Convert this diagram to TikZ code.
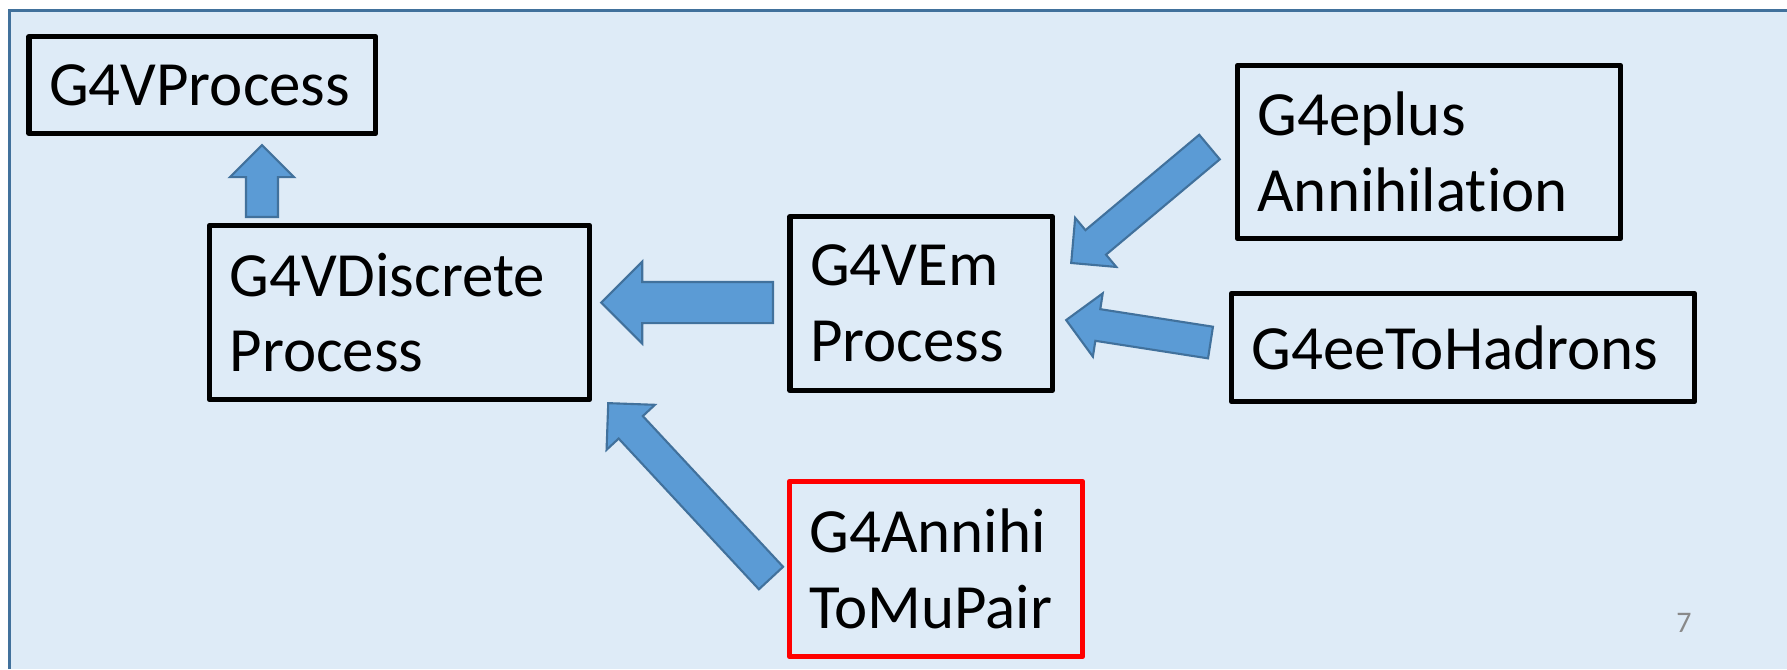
\documentclass[tikz,border=0pt]{standalone}
\usepackage{fontspec}
\setmainfont[Ligatures=NoCommon]{Carlito}
\usepackage{tikz}
\usetikzlibrary{calc}
\usetikzlibrary{positioning}

\definecolor{slidebg}{HTML}{DEEBF7}
\definecolor{slideedge}{HTML}{41719C}
\definecolor{arrowfill}{HTML}{5B9BD5}
\definecolor{arrowedge}{HTML}{41719C}
\definecolor{pagegray}{HTML}{898989}

% fat block arrow from #2 to #3, shaft width #1, head twice as wide
\newcommand{\blockarrow}[3][0.32cm]{%
  \draw[fatarrow] let \p1 = ($(#3)-(#2)$), \n1 = {veclen(\x1,\y1)}, \n2 = {atan2(\y1,\x1)} in
    [shift={(#2)}, rotate=\n2]
    (0pt,-#1/2) -- ({\n1-#1},-#1/2) -- ({\n1-#1},-#1) -- ({\n1+0pt},0pt)
    -- ({\n1-#1},#1) -- ({\n1-#1},#1/2) -- (0pt,#1/2) -- cycle;}

\begin{document}
\begin{tikzpicture}[
  x=0.01cm, y=-0.01cm,
  box/.style = {draw, line width=1.5pt, line join=round, outer sep=0pt,
                inner xsep=0.2cm, inner ysep=0pt, align=left, anchor=north west,
                font=\fontsize{17.9pt}{21.6pt}\selectfont},
  fatarrow/.style = {fill=arrowfill, draw=arrowedge, line width=0.6pt, line join=miter}
  ]
  \useasboundingbox (0,0) rectangle (1787,669);

  % slide
  \fill[slidebg] (9.5,10.5) rectangle (1787,669);
  \draw[slideedge, line width=0.85pt] (9.5,669) -- (9.5,10.5) -- (1787,10.5);

  \node[box, text width=3.065cm, minimum height=0.97cm] (proc) at (29,36.5) {G4VProcess};
  \node[box, text width=3.40cm, minimum height=1.74cm] (disc) at (209.5,225.5) {G4VDiscrete\\Process};
  \node[box, text width=2.22cm, minimum height=1.74cm] (em) at (790,216.5) {G4VEm\\Process};
  \node[box, text width=3.43cm, minimum height=1.73cm] (eplus) at (1237.5,65.5) {G4eplus\\Annihilation};
  \node[box, text width=4.23cm, minimum height=1.08cm] (eehad) at (1231.5,293.5) {G4eeToHadrons};
  \node[box, draw=red, text width=2.53cm, minimum height=1.75cm] (mupair) at (789.5,481.5) {G4Annihi\\ToMuPair};

  \node[text=pagegray, font=\fontsize{8.5pt}{10pt}\selectfont] (pgnum) at (1684,623) {7};

  \coordinate (up1) at ($(disc.north west)+(52.5,-8.5)$);
  \coordinate (up2) at ($(up1 |- proc.south)+(0,11.5)$);
  \coordinate (em1) at ($(em.west)+(-17,-1)$);
  \coordinate (em2) at ($(em1 -| disc.east)+(11.5,0)$);
  \coordinate (ep1) at ($(eplus.west)+(-28,-5)$);
  \coordinate (ep2) at ($(em.north east)+(19,46.5)$);
  \coordinate (had1) at ($(eehad.west)+(-21,-5)$);
  \coordinate (had2) at ($(em.east)+(14,16.5)$);
  \coordinate (mu1) at ($(mupair.west)+(-18.5,9)$);
  \coordinate (mu2) at ($(disc.south east)+(18.5,3.5)$);

  \blockarrow{up1}{up2}
  \blockarrow[0.41cm]{em1}{em2}
  \blockarrow{ep1}{ep2}
  \blockarrow{had1}{had2}
  \blockarrow[0.33cm]{mu1}{mu2}

\end{tikzpicture}
\end{document}
